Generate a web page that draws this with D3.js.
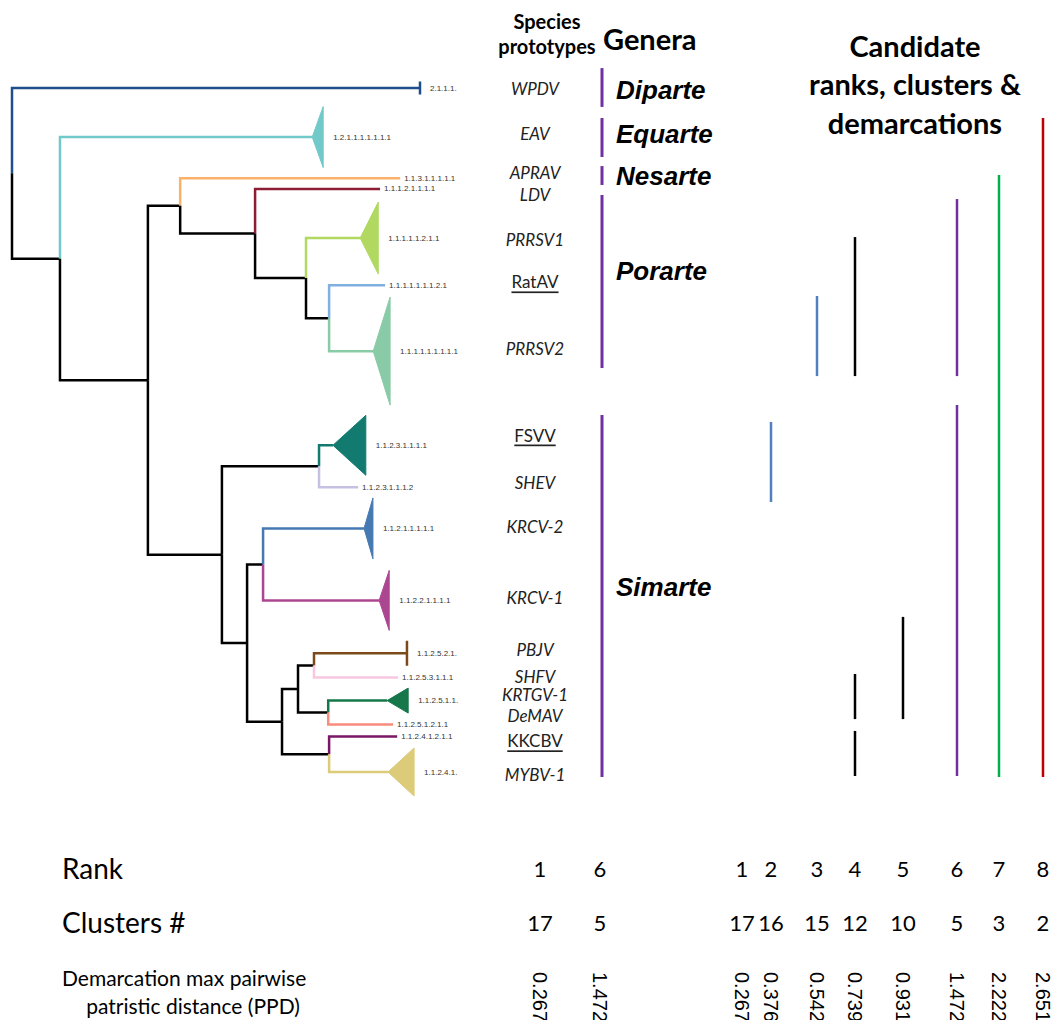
<!DOCTYPE html>
<html>
<head>
<meta charset="utf-8">
<script src="https://cdn.jsdelivr.net/npm/d3@7/dist/d3.min.js"></script>
<style>
  body { margin: 0; background: #fff; }
  svg { display: block; }
</style>
</head>
<body>
<svg id="chart" width="1054" height="1020"></svg>
<script>
// tree as a parent table, dist = distance from root (tree units)
const nodeIds = ['root','WPDV','A','EAV','B','C','APRAV','D','LDV','E','PRRSV1','F','RatAV','PRRSV2',
  'G','H','FSVV','SHEV','I','J','KRCV-2','KRCV-1','K','L','M','PBJV','SHFV','N','KRTGV-1','DeMAV','O','KKCBV','MYBV-1'];
const nodeParents = ['','root','root','A','A','B','C','C','D','D','E','E','F','F',
  'B','G','H','H','G','I','J','J','I','K','L','M','M','L','N','N','K','O','O'];
const nodeDist = [0,1.378,0.162,1.014,0.459,0.568,1.311,0.821,1.243,0.993,1.176,1.071,1.260,1.220,
  0.709,1.037,1.084,1.169,0.794,0.848,1.189,1.240,0.912,0.966,1.020,1.334,1.304,1.068,1.267,1.287,1.071,1.301,1.270];

// leaves, top to bottom
const leafNames = ['WPDV','EAV','APRAV','LDV','PRRSV1','RatAV','PRRSV2','FSVV','SHEV','KRCV-2','KRCV-1',
  'PBJV','SHFV','KRTGV-1','DeMAV','KKCBV','MYBV-1'];
const leafCodes = ['2.1.1.1.','1.2.1.1.1.1.1.1.1','1.1.3.1.1.1.1.1','1.1.1.2.1.1.1.1','1.1.1.1.1.2.1.1',
  '1.1.1.1.1.1.1.2.1','1.1.1.1.1.1.1.1.1','1.1.2.3.1.1.1.1','1.1.2.3.1.1.1.2','1.1.2.1.1.1.1.1',
  '1.1.2.2.1.1.1.1','1.1.2.5.2.1.','1.1.2.5.3.1.1.1','1.1.2.5.1.1.','1.1.2.5.1.2.1.1','1.1.2.4.1.2.1.1','1.1.2.4.1.'];
const leafRows = [0,2.44,4.48,5.02,7.46,9.8,13.08,17.76,19.85,21.89,25.47,28.1,29.3,30.45,31.64,32.24,34];
// collapsed clades: depth (tree units) and spread (rows); null = single sequence
const cladeDepth = [0,0.037,null,null,0.061,null,0.057,0.111,null,0.030,0.034,0,null,0.071,null,null,0.088];
const cladeSize = [0.65,3.03,0,0,3.58,0,5.37,2.98,0,3.03,2.98,1.24,0,1.24,0,0,2.39];
const protoRows = [0,2.24,4.18,5.27,7.51,9.64,12.97,17.25,19.63,21.82,25.35,27.93,29.27,30.17,31.21,32.45,34.14];
const underlined = ['RatAV','FSVV','KKCBV'];

const genusNames = ['Diparte','Equarte','Nesarte','Porarte','Simarte'];
const genusSpans = [[-0.99,0.94],[1.49,3.43],[3.88,4.82],[5.32,13.92],[16.25,34.25]];
const genusLabelRows = [0.1,2.29,4.37,9.1,24.8];

const officialRanks = [1,6];
const officialClusters = [17,5];
const officialPpd = ['0.267','1.472'];

const ranks = [1,2,3,4,5,6,7,8];
const clusters = [17,16,15,12,10,5,3,2];
const ppd = ['0.267','0.376','0.542','0.739','0.931','1.472','2.222','2.651'];
const rankSegments = [[],[[16.6,20.58]],[[10.34,14.32]],[[7.41,14.32],[29.13,31.37],[31.96,34.2]],
  [[26.29,31.37]],[[5.52,14.32],[15.76,34.2]],[[4.32,34.25]],[[1.49,34.25]]];

// styles / layout
const leafColors = ['#1f4e8c','#72c9c9','#fbb169','#8c1d33','#b1d961','#7fb0e0','#89cba6','#137a70','#c6c0e2',
  '#4679b1','#ad4691','#7b4a18','#f8c8e0','#16774a','#f98c7c','#7a1766','#dccb78'];
const rankColors = [null,'#4f81bd','#4f81bd','#000','#000','#7030a0','#00b050','#c00000'];
const officialX = [540,600];
const rankX = [742,771,817,855,903,957,999,1043];

const svg = d3.select('#chart');
const x = d3.scaleLinear().domain([0,1.378]).range([12,420]);
const y = d3.scaleLinear().domain([0,34]).range([88,772]);
const halfH = r => (y(r) - y(0)) / 2;

const table = nodeIds.map((id,i) => ({id, parent: nodeParents[i], dist: nodeDist[i]}));
const root = d3.stratify().id(d => d.id).parentId(d => d.parent || null)(table);
root.eachAfter(n => {
  const li = leafNames.indexOf(n.id);
  if (li > -1) { n.row = leafRows[li]; n.li = li; }
  else n.row = d3.mean(n.children, c => c.row);
});

// branches
svg.append('g').selectAll('path')
  .data(root.descendants().filter(n => n.parent))
  .join('path')
  .attr('fill','none')
  .attr('stroke', n => n.li !== undefined ? leafColors[n.li] : '#000')
  .attr('stroke-width', 2.5)
  .attr('d', n => `M${x(n.parent.data.dist)},${y(n.parent.row)}V${y(n.row)}H${x(n.data.dist)}`);

// collapsed clades
const leaves = root.leaves();
svg.append('g').selectAll('path')
  .data(leaves.filter(n => cladeDepth[n.li] !== null))
  .join('path')
  .attr('fill', n => leafColors[n.li])
  .attr('stroke', n => leafColors[n.li])
  .attr('stroke-width', n => cladeDepth[n.li] === 0 ? 2.5 : 1)
  .attr('d', n => {
    const x0 = x(n.data.dist), x1 = x(n.data.dist + cladeDepth[n.li]);
    const yc = y(n.row), h = halfH(cladeSize[n.li]);
    return `M${x0},${yc}L${x1},${yc - h}L${x1},${yc + h}Z`;
  });

// tip codes
svg.append('g').selectAll('text')
  .data(leaves)
  .join('text')
  .attr('x', n => cladeDepth[n.li] === null ? x(n.data.dist) + 4 : x(n.data.dist + cladeDepth[n.li]) + 10)
  .attr('y', n => y(n.row))
  .attr('dominant-baseline','central')
  .style('font-family','Liberation Sans, Arial, sans-serif')
  .style('font-size','8px')
  .attr('fill','#333')
  .text(n => leafCodes[n.li]);

// species prototypes
svg.append('text').attr('x',547).attr('y',21).attr('text-anchor','middle').attr('dominant-baseline','central')
  .style('font','bold 20px Lato, sans-serif').text('Species');
svg.append('text').attr('x',547).attr('y',46).attr('text-anchor','middle').attr('dominant-baseline','central')
  .style('font','bold 20px Lato, sans-serif').text('prototypes');
svg.append('g').selectAll('text')
  .data(leafNames)
  .join('text')
  .attr('x',535)
  .attr('y',(d,i) => y(protoRows[i]))
  .attr('text-anchor','middle')
  .attr('dominant-baseline','central')
  .style('font-family','Lato, sans-serif')
  .style('font-size','17px')
  .style('font-style', d => underlined.includes(d) ? 'normal' : 'italic')
  .style('text-decoration', d => underlined.includes(d) ? 'underline' : 'none')
  .attr('fill','#222')
  .text(d => d);

// genera
svg.append('text').attr('x',603).attr('y',38).attr('dominant-baseline','central')
  .style('font','bold 29px Lato, sans-serif').text('Genera');
svg.append('g').selectAll('line')
  .data(genusSpans)
  .join('line')
  .attr('x1',officialX[1] + 2).attr('x2',officialX[1] + 2)
  .attr('y1', d => y(d[0])).attr('y2', d => y(d[1]))
  .attr('stroke','#7030a0').attr('stroke-width',3);
svg.append('g').selectAll('text')
  .data(genusNames)
  .join('text')
  .attr('x',616)
  .attr('y',(d,i) => y(genusLabelRows[i]))
  .attr('dominant-baseline','central')
  .style('font','italic bold 26px "Liberation Sans", Arial, sans-serif')
  .text(d => d);

// candidate ranks
['Candidate','ranks, clusters &','demarcations'].forEach((t,i) => {
  svg.append('text').attr('x',915).attr('y',45 + i * 38.5)
    .attr('text-anchor','middle').attr('dominant-baseline','central')
    .style('font','bold 29px Lato, sans-serif').text(t);
});
rankSegments.forEach((segs,i) => {
  svg.append('g').selectAll('line')
    .data(segs)
    .join('line')
    .attr('x1',rankX[i]).attr('x2',rankX[i])
    .attr('y1', d => y(d[0])).attr('y2', d => y(d[1]))
    .attr('stroke',rankColors[i]).attr('stroke-width',2.5);
});

// bottom table
const rowLabel = (t,yy,size) => svg.append('text').attr('x',62).attr('y',yy)
  .attr('dominant-baseline','central').style('font',`${size}px Lato, sans-serif`).text(t);
rowLabel('Rank',868,28);
rowLabel('Clusters #',922,28);
rowLabel('Demarcation max pairwise',977,21);
svg.append('text').attr('x',193).attr('y',1005).attr('text-anchor','middle')
  .attr('dominant-baseline','central').style('font','21px Lato, sans-serif').text('patristic distance (PPD)');

const colX = officialX.concat(rankX);
const rankVals = officialRanks.concat(ranks);
const clusterVals = officialClusters.concat(clusters);
const ppdVals = officialPpd.concat(ppd);

svg.append('g').selectAll('text')
  .data(rankVals)
  .join('text')
  .attr('x',(d,i) => colX[i]).attr('y',868)
  .attr('text-anchor','middle').attr('dominant-baseline','central')
  .style('font','22px Lato, sans-serif').text(d => d);
svg.append('g').selectAll('text')
  .data(clusterVals)
  .join('text')
  .attr('x',(d,i) => colX[i]).attr('y',922)
  .attr('text-anchor','middle').attr('dominant-baseline','central')
  .style('font','22px Lato, sans-serif').text(d => d);
svg.append('g').selectAll('text')
  .data(ppdVals)
  .join('text')
  .attr('transform',(d,i) => `translate(${colX[i]},972) rotate(90)`)
  .attr('dominant-baseline','central')
  .style('font','20px "Liberation Sans", Arial, sans-serif').text(d => d);
</script>
</body>
</html>
